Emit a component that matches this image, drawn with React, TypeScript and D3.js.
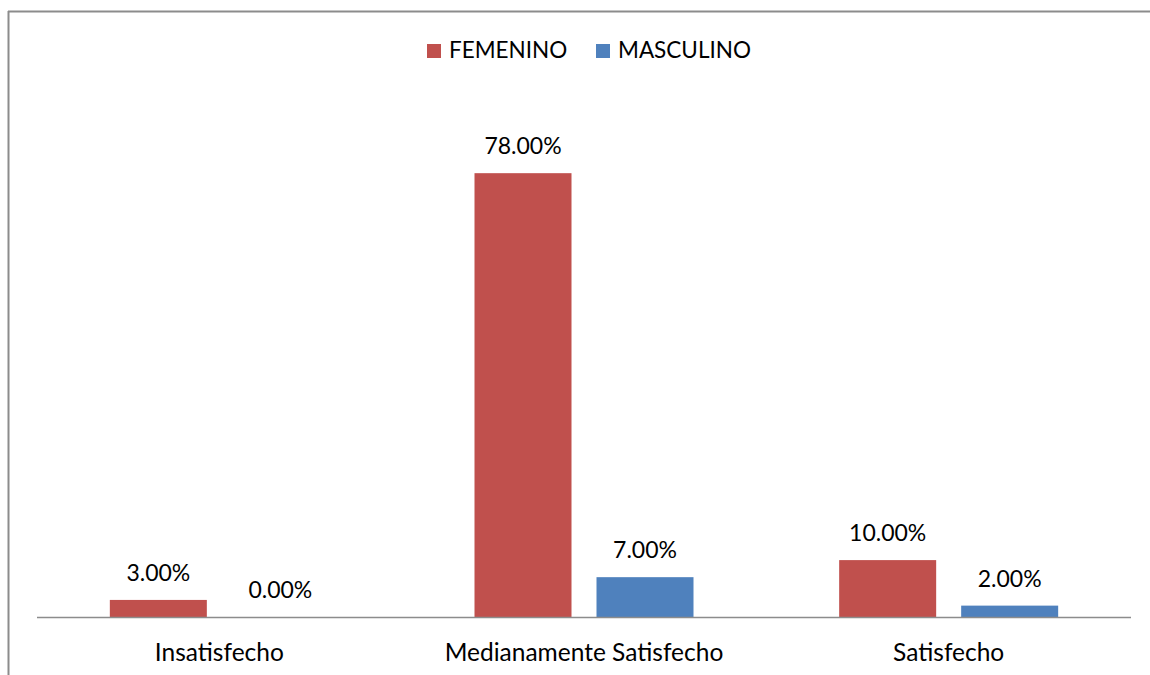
import React from "react";
import * as d3 from "d3";

const categories = ["Insatisfecho", "Medianamente Satisfecho", "Satisfecho"];
const seriesNames = ["FEMENINO", "MASCULINO"];
const femenino = [3, 78, 10];
const masculino = [0, 7, 2];
const colors = ["#C0504D", "#4F81BD"];

export default function App() {
  const W = 1150, H = 675;
  const x0 = 37, x1 = 1131, baseY = 617;
  const font = "Lato, 'Open Sans', sans-serif";
  const x = d3.scaleBand<string>().domain(categories).range([x0, x1]).paddingInner(0).paddingOuter(0);
  const y = d3.scaleLinear().domain([0, 80]).range([baseY, baseY - 80 * 5.69]);
  const series = [femenino, masculino];
  const barW = 97, gap = 25;
  const fmt = (v: number) => v.toFixed(2) + "%";
  return (
    <svg width={W} height={H} style={{ position: "absolute", left: 0, top: 0 }}>
      <rect x={0} y={0} width={W} height={H} fill="#fff" />
      <line x1={8.5} y1={11} x2={8.5} y2={H} stroke="#8c8c8c" strokeWidth={2} />
      <line x1={8} y1={11.5} x2={W} y2={11.5} stroke="#8c8c8c" strokeWidth={2} />
      {categories.map((c, i) => {
        const cx = x(c)! + x.bandwidth() / 2;
        return (
          <g key={c}>
            {series.map((s, j) => {
              const bx = cx - gap / 2 - barW + j * (barW + gap);
              const top = y(s[i]);
              return (
                <g key={j}>
                  <rect x={bx} y={top} width={barW} height={baseY - top} fill={colors[j]} />
                  <text x={bx + barW / 2} y={top - 19} textAnchor="middle" fontFamily={font} fontSize={23} fill="#000">
                    {fmt(s[i])}
                  </text>
                </g>
              );
            })}
            <text x={cx} y={661} textAnchor="middle" fontFamily={font} fontSize={24.5} fill="#000">
              {c}
            </text>
          </g>
        );
      })}
      <line x1={x0} y1={baseY + 0.5} x2={x1} y2={baseY + 0.5} stroke="#8c8c8c" strokeWidth={1.5} />
      {seriesNames.map((n, j) => {
        const lx = j === 0 ? 427 : 596;
        return (
          <g key={n}>
            <rect x={lx} y={44} width={14} height={14} fill={colors[j]} />
            <text x={lx + 22} y={58} fontFamily={font} fontSize={22.5} fill="#000">
              {n}
            </text>
          </g>
        );
      })}
    </svg>
  );
}
